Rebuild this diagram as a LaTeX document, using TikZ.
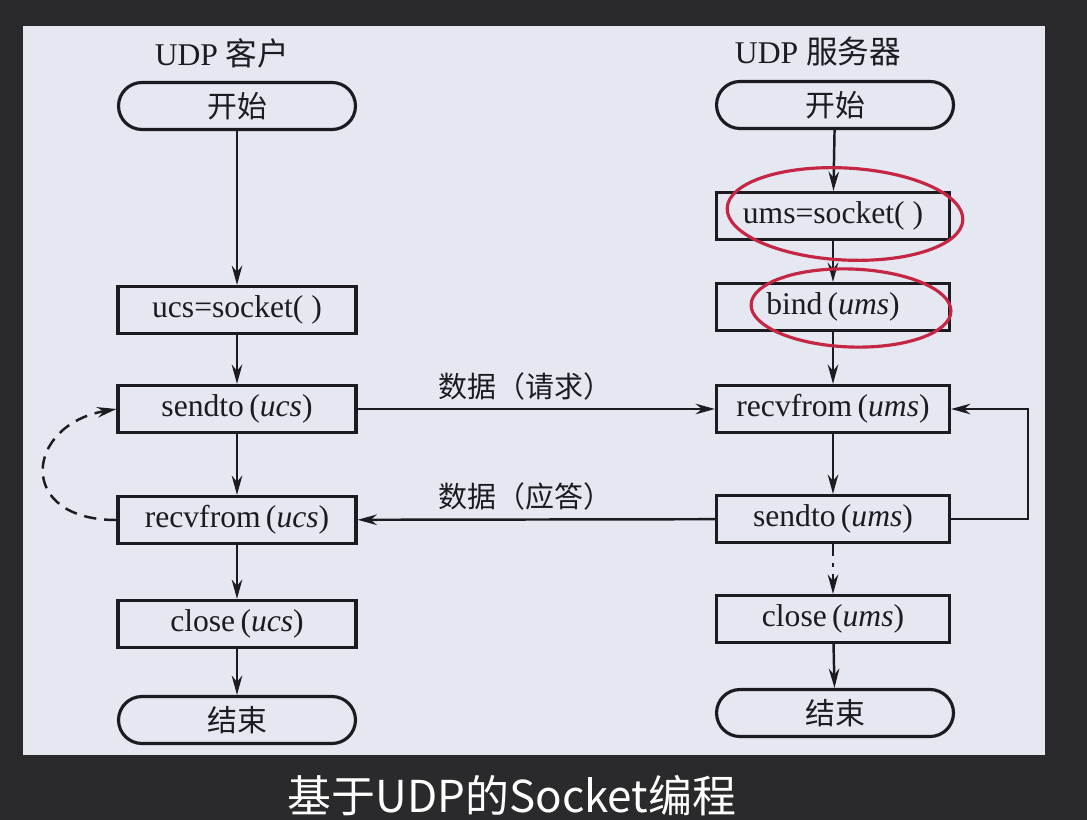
\documentclass[tikz,border=0pt]{standalone}
\usepackage{fontspec}
\setmainfont{Liberation Serif}
\newfontfamily\cjk{Noto Sans CJK SC}
\usepackage{xcolor}
\usepackage{tikz}
\usetikzlibrary{
	arrows.meta,
	positioning
}
\definecolor{screen}{RGB}{42,42,44}
\definecolor{paper}{RGB}{229,231,241}
\definecolor{ink}{RGB}{28,28,32}
\definecolor{marker}{RGB}{196,38,68}

\begin{document}
\begin{tikzpicture}[x=0.02cm, y=-0.02cm,
	proc/.style={draw=ink, text=ink, line width=1.8pt, minimum width=4.76cm,
		minimum height=0.94cm, inner sep=0pt,
		font=\fontsize{18}{20}\selectfont},
	sproc/.style={proc, minimum width=4.66cm},
	term/.style={proc, rounded corners=0.47cm, minimum width=4.74cm,
		font=\cjk\fontsize{17}{20}\selectfont},
	flow/.style={draw=ink, line width=1.4pt, -{Stealth[length=11pt,width=6pt]}},
	lbl/.style={text=ink, font=\cjk\fontsize{16.5}{18}\selectfont},
	ring/.style={draw=marker, line width=1.8pt}]
		
		% Screen and paper
		\fill[screen] (0,0) rectangle (1087,820);
		\useasboundingbox (0,0) rectangle (1087,820);
		\fill[paper] (23,26) rectangle (1045,755);
		
		% Titles
		\node[text=ink, font=\fontsize{18}{20}\selectfont] (cname) at (222,53) {UDP {\cjk 客户}};
		\node[text=ink, font=\fontsize{18}{20}\selectfont] (sname) at (818,51) {UDP {\cjk 服务器}};
		
		% Client side
		\node[term] (cstart) at (237,106) {开始};
		\node[proc] (csock) at (237,310) {ucs=socket( )};
		\node[proc] (csend) at (237,409) {sendto\,(\textit{ucs})};
		\node[proc] (crecv) at (237,520) {recvfrom\,(\textit{ucs})};
		\node[proc] (cclose) at (237,624) {close\,(\textit{ucs})};
		\node[term] (cend) at (237,720) {结束};
		
		% Server side
		\node[term] (sstart) at (835,105) {开始};
		\node[sproc] (ssock) at (833,216) {ums=socket( )};
		\node[sproc] (sbind) at (833,307) {bind\,(\textit{ums})};
		\node[sproc] (srecv) at (833,409) {recvfrom\,(\textit{ums})};
		\node[sproc] (ssend) at (833,519) {sendto\,(\textit{ums})};
		\node[sproc] (sclose) at (833,619) {close\,(\textit{ums})};
		\node[term] (send) at (835,713) {结束};
		
		% Client flow
		\draw[flow] (cstart) -- (csock);
		\draw[flow] (csock) -- (csend);
		\draw[flow] (csend) -- (crecv);
		\draw[flow] (crecv) -- (cclose);
		\draw[flow] (cclose) -- (cend);
		
		% Server flow
		\draw[flow] (sstart) -- (ssock);
		\draw[flow] (ssock) -- (sbind);
		\draw[flow] (sbind) -- (srecv);
		\draw[flow] (srecv) -- (ssend);
		\draw[flow, dash pattern=on 7pt off 4pt on 2pt off 4pt] (ssend) -- (sclose);
		\draw[flow] (sclose) -- (send);
		
		% Data exchange
		\draw[flow] (csend) -- node[lbl, above=1pt, pos=0.47] {数据（请求）} (srecv);
		\draw[flow] (ssend) -- node[lbl, above=1pt, pos=0.53] {数据（应答）} (crecv);
		
		% Server loop
		\coordinate (loop) at (1028,519);
		\draw[flow] (ssend.east) -- (loop) |- (srecv.east);
		
		% Client repeat
		\draw[flow, dash pattern=on 7pt off 4.5pt] (crecv.west)
		.. controls (15,520) and (25,425) ..
		(csend.west);
		
		% Marker rings
		\draw[ring] (845,214) ellipse [x radius=2.36cm, y radius=0.92cm, rotate=-3];
		\draw[ring] (851,308) ellipse [x radius=2.0cm, y radius=0.78cm, rotate=-2];
		
		% Caption
		\node[text=white, font=\cjk\fontsize{25}{28}\selectfont] (caption) at (512,796) {基于UDP的Socket编程};
		
	\end{tikzpicture}
\end{document}
